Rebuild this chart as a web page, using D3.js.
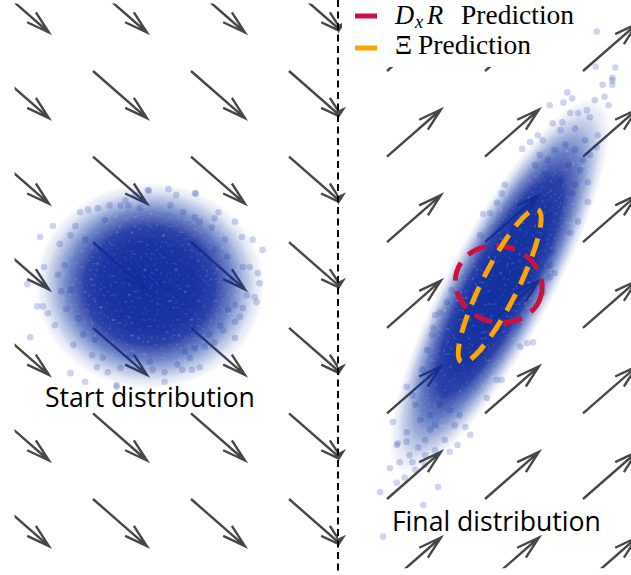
<!DOCTYPE html>
<html>
<head>
<meta charset="utf-8">
<script src="https://cdn.jsdelivr.net/npm/d3@7"></script>
<style>
  body { margin: 0; background: #fff; }
  svg { display: block; }
</style>
</head>
<body>
<div id="container"></div>
<script>
// quiver grid, in grid units
var gridCols = [-1, 0, 1, 2, 3, 4, 5];
var gridRows = [-1, 0, 1, 2, 3, 4, 5, 6, 7];
var startField = [0.55, 0.55];   // pushes down-right
var finalField = [0.55, -0.55];  // pushes up-right

// dense part of each cloud: centre, half major axis, minor/major ratio
var startCore = { c: [0.58, 2.51], axis: [1.17, 0], ratio: 0.9 };
var finalCore = { c: [4.15, 2.51], axis: [1.02, -2.18], ratio: 0.25 };

// loose samples around the edge of the start cloud
var startPoints = [
    [-0.41, 1.81], [-0.54, 1.94], [-0.67, 2.49], [-0.50, 2.29], [-0.57, 2.75], [-0.51, 2.75],
    [-0.46, 2.83], [-0.64, 3.11], [-0.39, 2.97], [-0.27, 2.78], [-0.33, 2.57], [-0.36, 2.38],
    [-0.34, 2.02], [-0.23, 1.92], [-0.13, 1.65], [-0.05, 1.62], [0.05, 1.60], [-0.18, 1.81],
    [-0.20, 3.20], [-0.10, 3.08], [-0.23, 3.53], [-0.08, 3.63], [0.04, 3.46], [0.15, 3.52],
    [-0.01, 3.32], [0.10, 3.35], [0.28, 3.47], [0.24, 3.67], [0.56, 1.39], [0.77, 1.38],
    [1.04, 1.43], [1.45, 1.76], [1.52, 1.94], [1.63, 1.97], [1.73, 2.09], [1.53, 2.29],
    [1.60, 2.29], [1.68, 2.36], [1.70, 2.48], [1.57, 2.62], [1.65, 2.64], [1.67, 2.70],
    [1.45, 2.73], [1.53, 2.77], [1.50, 2.87], [1.45, 2.93], [1.30, 2.97], [1.45, 3.12],
    [1.33, 3.03], [1.24, 3.17], [1.14, 3.22], [1.04, 3.24], [0.99, 3.35], [1.09, 3.46],
    [1.01, 3.49], [0.86, 3.43], [0.73, 3.52], [0.61, 3.49], [0.73, 3.63], [1.28, 1.65],
    [1.24, 1.72], [1.21, 1.83], [1.37, 2.17], [1.24, 2.09], [1.04, 1.71], [0.92, 1.65],
    [0.24, 3.69], [0.85, 1.45], [1.05, 1.43], [0.91, 3.49], [0.57, 1.40], [0.17, 1.57],
    [0.33, 1.51], [0.43, 1.45], [0.28, 1.57], [0.36, 1.57], [-0.29, 2.27], [-0.23, 2.56],
    [-0.15, 2.89], [0.02, 3.14], [0.38, 3.32], [0.58, 3.40], [0.94, 3.28], [1.19, 3.08],
    [1.38, 2.79], [1.42, 2.44], [1.35, 1.97], [1.09, 1.76], [0.79, 1.57], [0.48, 1.60],
    [0.12, 1.74], [-0.08, 1.97]
];

// loose samples around the final (stretched) cloud
var finalPoints = [
    [5.30, 0.08], [5.20, 0.16], [5.30, 0.16], [4.84, 0.25], [4.89, 0.32], [4.80, 0.37],
    [4.66, 0.40], [5.12, 0.34], [5.26, 0.40], [5.07, 0.54], [5.04, 0.46], [4.87, 0.49],
    [4.95, 0.49], [4.69, 0.61], [4.79, 0.60], [5.15, 0.75], [4.54, 0.75], [4.46, 0.83],
    [4.38, 0.91], [4.59, 0.81], [5.00, 1.04], [5.14, 0.89], [5.05, 1.30], [4.89, 1.43],
    [5.05, 1.53], [4.95, 1.76], [4.87, 1.89], [4.20, 1.33], [4.17, 1.43], [4.12, 1.54],
    [4.05, 1.66], [3.98, 1.67], [3.95, 1.92], [4.68, 2.11], [4.66, 2.27], [5.14, -0.46],
    [5.13, -0.05], [5.33, -0.04], [5.30, 0.11], [5.22, 0.30], [3.66, 2.56], [3.61, 2.70],
    [3.54, 2.82], [3.47, 3.00], [3.46, 3.08], [3.41, 3.26], [3.36, 3.49], [3.20, 3.69],
    [3.26, 3.79], [3.29, 3.90], [3.06, 4.10], [3.20, 4.22], [3.10, 4.37], [3.20, 4.33],
    [3.13, 4.57], [3.03, 4.64], [3.10, 4.81], [2.93, 4.92], [3.52, 4.86], [3.64, 4.45],
    [3.72, 4.37], [3.85, 4.25], [3.80, 4.16], [4.02, 3.82], [4.12, 3.61], [4.17, 3.61],
    [4.36, 3.22], [4.43, 3.18], [4.49, 3.17], [4.34, 2.97], [4.59, 2.59], [4.66, 2.41],
    [4.71, 2.36], [2.96, 5.44], [3.37, 5.07], [3.11, 4.35], [3.49, 2.85],
    [3.23, 4.49], [3.32, 4.40], [3.39, 4.31], [3.44, 4.19], [3.34, 4.08], [3.44, 4.02],
    [3.54, 3.90], [3.59, 3.79], [3.39, 4.60], [3.29, 4.66], [3.18, 4.75], [3.49, 4.43],
    [3.59, 4.31], [3.69, 4.14], [3.74, 4.02], [3.64, 3.96], [3.49, 4.14], [3.39, 4.49],
    [3.26, 4.57], [4.77, 0.69], [4.92, 0.67], [5.02, 0.81], [4.82, 0.86], [4.71, 0.92],
    [4.92, 0.92], [5.07, 0.98], [4.64, 1.04], [4.85, 1.10], [4.97, 1.16], [4.61, 1.21],
    [4.77, 1.27], [4.92, 1.33], [4.51, 1.10], [4.56, 0.98]
];

// predicted covariance ellipses
var dxrEllipse = { c: [4.14, 2.49], axis: [0.43, 0.14], ratio: 0.87 };
var xiEllipse = { c: [4.15, 2.51], axis: [0.39, -0.89], ratio: 0.21 };

var panelLabels = ["Start distribution", "Final distribution"];

var width = 631, height = 575;

var svg = d3.select('#container')
    .append('svg')
    .attr('width', width)
    .attr('height', height);

// one grid unit = 98px across, 85.6px down
var x = d3.scaleLinear().domain([0, 1]).range([93, 191]);
var y = d3.scaleLinear().domain([0, 1]).range([71, 156.6]);

var defs = svg.append('defs');

defs.append('clipPath').attr('id', 'clipStart')
    .append('rect')
    .attr('x', x(-0.8)).attr('y', y(-0.79))
    .attr('width', x(2.5) - x(-0.8)).attr('height', y(5.81) - y(-0.79));

defs.append('clipPath').attr('id', 'clipFinal')
    .append('rect')
    .attr('x', x(2.5)).attr('y', y(-0.79))
    .attr('width', width - x(2.5)).attr('height', y(5.81) - y(-0.79));

var grad = defs.append('radialGradient').attr('id', 'cloudGrad');
[[0, 0.98], [0.4, 0.96], [0.57, 0.88], [0.7, 0.62], [0.82, 0.33], [0.92, 0.11], [1, 0]].forEach(function (s) {
    grad.append('stop')
        .attr('offset', s[0])
        .attr('stop-color', '#0a2a9e')
        .attr('stop-opacity', s[1]);
});

// light speckle so the dense part doesn't look airbrushed
var grain = defs.append('filter').attr('id', 'grain')
    .attr('x', '-5%').attr('y', '-5%').attr('width', '110%').attr('height', '110%');
grain.append('feTurbulence')
    .attr('type', 'fractalNoise')
    .attr('baseFrequency', 0.32)
    .attr('numOctaves', 1)
    .attr('seed', 7)
    .attr('result', 'noise');
grain.append('feColorMatrix')
    .attr('in', 'noise')
    .attr('type', 'matrix')
    .attr('values', '0 0 0 0 0  0 0 0 0 0  0 0 0 0 0  1.0 0 0 0 0.6')
    .attr('result', 'mask');
grain.append('feComposite')
    .attr('in', 'SourceGraphic')
    .attr('in2', 'mask')
    .attr('operator', 'in');

var grid = [];
gridCols.forEach(function (c) {
    gridRows.forEach(function (r) { grid.push([c, r]); });
});

function arrowPath(d, vec) {
    var x0 = x(d[0]), y0 = y(d[1]);
    var x1 = x(d[0] + vec[0]), y1 = y(d[1] + vec[1]);
    var a = Math.atan2(y1 - y0, x1 - x0);
    var hl = 24, ha = 16 * Math.PI / 180;
    var p = d3.path();
    p.moveTo(x0, y0);
    p.lineTo(x1, y1);
    p.moveTo(x1 - hl * Math.cos(a - ha), y1 - hl * Math.sin(a - ha));
    p.lineTo(x1, y1);
    p.lineTo(x1 - hl * Math.cos(a + ha), y1 - hl * Math.sin(a + ha));
    return p.toString();
}

function drawField(clip, vec) {
    svg.append('g')
        .attr('clip-path', 'url(#' + clip + ')')
        .selectAll('path')
        .data(grid)
        .enter().append('path')
        .attr('d', function (d) { return arrowPath(d, vec); })
        .attr('fill', 'none')
        .attr('stroke', '#474747')
        .attr('stroke-width', 2.4)
        .attr('stroke-linejoin', 'miter');
}

drawField('clipStart', startField);
drawField('clipFinal', finalField);

// turn centre + axis (grid units) into a pixel ellipse
function ellipseGeom(e) {
    var cx = x(e.c[0]), cy = y(e.c[1]);
    var vx = x(e.c[0] + e.axis[0]) - cx, vy = y(e.c[1] + e.axis[1]) - cy;
    var L = Math.sqrt(vx * vx + vy * vy);
    return { cx: cx, cy: cy, rx: L, ry: L * e.ratio, angle: Math.atan2(vy, vx) * 180 / Math.PI };
}

function drawCore(e) {
    var g = ellipseGeom(e);
    svg.append('g')
        .attr('filter', 'url(#grain)')
        .append('ellipse')
        .attr('transform', 'translate(' + g.cx + ',' + g.cy + ') rotate(' + g.angle + ')')
        .attr('rx', g.rx)
        .attr('ry', g.ry)
        .attr('fill', 'url(#cloudGrad)');
}

function drawPoints(pts) {
    svg.append('g')
        .selectAll('circle')
        .data(pts)
        .enter().append('circle')
        .attr('cx', function (d) { return x(d[0]); })
        .attr('cy', function (d) { return y(d[1]); })
        .attr('r', 3.3)
        .attr('fill', '#0a2a9e')
        .attr('fill-opacity', 0.2);
}

drawCore(startCore);
drawPoints(startPoints);
drawCore(finalCore);
drawPoints(finalPoints);

function drawEllipse(e, color) {
    var g = ellipseGeom(e);
    svg.append('ellipse')
        .attr('transform', 'translate(' + g.cx + ',' + g.cy + ') rotate(' + g.angle + ')')
        .attr('rx', g.rx)
        .attr('ry', g.ry)
        .attr('fill', 'none')
        .attr('stroke', color)
        .attr('stroke-width', 5)
        .style('stroke-dasharray', ('19,11'));
}

drawEllipse(dxrEllipse, '#d0103c');
drawEllipse(xiEllipse, '#ffa500');

// divider between the two panels
svg.append('line')
    .attr('x1', x(2.5)).attr('x2', x(2.5))
    .attr('y1', 0).attr('y2', height)
    .attr('stroke', '#000')
    .attr('stroke-width', 2)
    .style('stroke-dasharray', ('7,4.5'));

// panel captions
svg.append('text')
    .attr('x', x(-0.49)).attr('y', y(3.93))
    .style('font-family', '"Open Sans", sans-serif')
    .style('font-size', '26.6px')
    .attr('fill', '#000')
    .text(panelLabels[0]);

svg.append('text')
    .attr('x', x(3.05)).attr('y', y(5.37))
    .style('font-family', '"Open Sans", sans-serif')
    .style('font-size', '26.6px')
    .attr('fill', '#000')
    .text(panelLabels[1]);

// legend
var legend = svg.append('g');
legend.append('rect')
    .attr('x', 342).attr('y', 0)
    .attr('width', 240).attr('height', 67)
    .attr('fill', '#fff');

legend.append('line')
    .attr('x1', 355).attr('x2', 377).attr('y1', 16).attr('y2', 16)
    .attr('stroke', '#d0103c').attr('stroke-width', 5);
legend.append('line')
    .attr('x1', 355).attr('x2', 377).attr('y1', 48).attr('y2', 48)
    .attr('stroke', '#ffa500').attr('stroke-width', 5);

var t1 = legend.append('text')
    .attr('x', 395).attr('y', 24)
    .style('font-family', '"Liberation Serif", serif')
    .style('font-size', '26.5px')
    .attr('fill', '#000');
t1.append('tspan').style('font-style', 'italic').text('D');
t1.append('tspan').style('font-style', 'italic').style('font-size', '18.5px')
    .attr('x', 415).attr('dy', 4).text('x');
t1.append('tspan').style('font-style', 'italic')
    .attr('x', 427).attr('dy', -4).text('R');
t1.append('tspan').style('font-size', '27.5px').attr('x', 461).text('Prediction');

var t2 = legend.append('text')
    .attr('x', 395).attr('y', 54)
    .style('font-family', '"Liberation Serif", serif')
    .style('font-size', '26.5px')
    .attr('fill', '#000');
t2.append('tspan').text('\u039E');
t2.append('tspan').style('font-size', '27.5px').attr('x', 418).text('Prediction');
</script>
</body>
</html>
